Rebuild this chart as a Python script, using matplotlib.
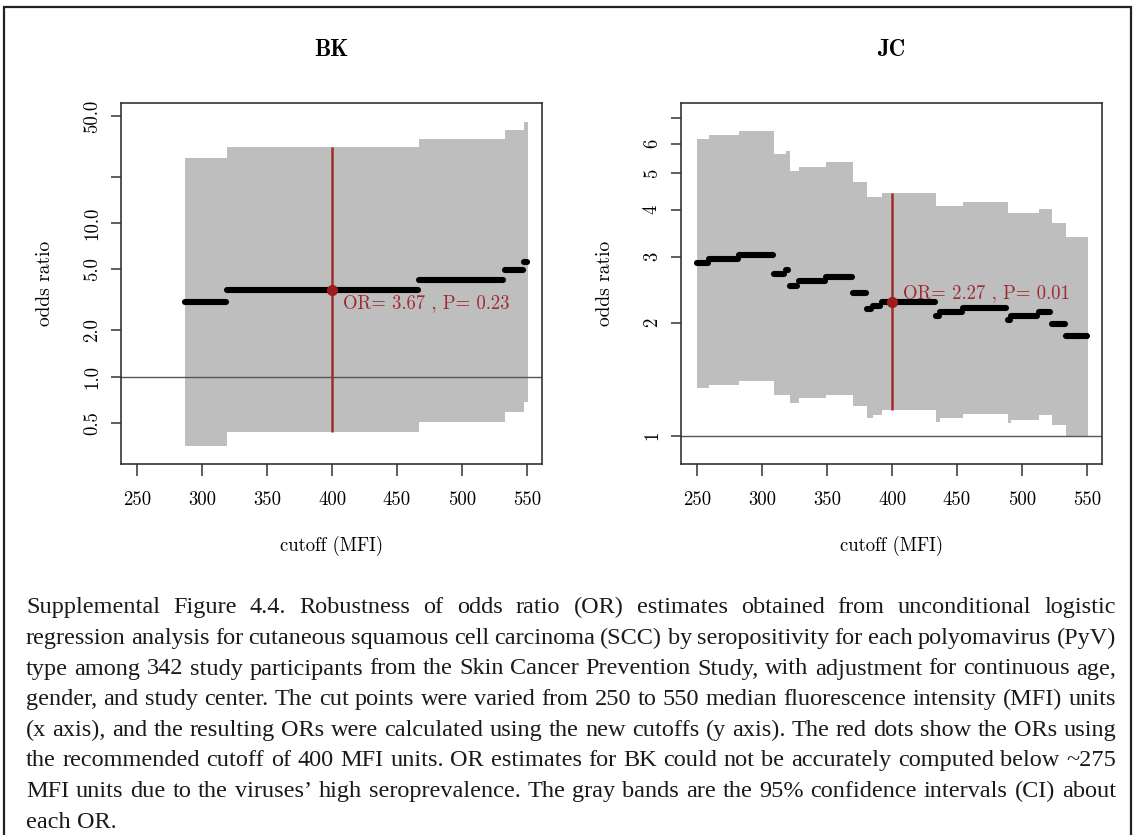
import numpy as np
import matplotlib
matplotlib.use("Agg")
import matplotlib.pyplot as plt
from matplotlib.ticker import FixedLocator, NullLocator
from matplotlib.patches import Rectangle

plt.rcParams["axes.unicode_minus"] = False

# each entry is a run of cutoffs (MFI) that gives the same OR and 95% CI
bk_start = [287, 319, 467, 533, 548]
bk_stop = 551
bk_or = [3.05, 3.67, 4.29, 4.94, 5.6]
bk_lo = [0.353, 0.434, 0.509, 0.591, 0.681]
bk_hi = [26.5, 31.3, 35.6, 40.5, 45.8]
bk_p = 0.23

jc_start = [250, 259, 282, 309, 318, 321, 328, 349, 370, 381,
            385, 392, 434, 437, 455, 489, 492, 513, 523, 534]
jc_stop = 551
jc_or = [2.89, 2.955, 3.03, 2.70, 2.77, 2.505, 2.58, 2.65, 2.395, 2.17,
         2.22, 2.27, 2.08, 2.13, 2.19, 2.03, 2.08, 2.14, 1.98, 1.84]
jc_lo = [1.337, 1.365, 1.399, 1.286, 1.286, 1.224, 1.258, 1.284, 1.20, 1.113,
         1.135, 1.17, 1.09, 1.113, 1.142, 1.079, 1.101, 1.135, 1.068, 0.99]
jc_hi = [6.17, 6.32, 6.48, 5.62, 5.74, 5.08, 5.20, 5.35, 4.75, 4.33,
         4.33, 4.42, 4.09, 4.09, 4.18, 3.91, 3.91, 4.02, 3.68, 3.38]
jc_p = 0.01

ref_cut = 400
x_ticks = [250, 300, 350, 400, 450, 500, 550]
bk_yticks = [0.5, 1, 2, 5, 10, 20, 50]
bk_ylabels = ["0.5", "1.0", "2.0", "5.0", "10.0", "", "50.0"]
jc_yticks = [1, 2, 3, 4, 5, 6, 7]
jc_ylabels = ["1", "2", "3", "4", "5", "6", ""]

caption = [
    "Supplemental Figure 4.4. Robustness of odds ratio (OR) estimates obtained from unconditional logistic",
    "regression analysis for cutaneous squamous cell carcinoma (SCC) by seropositivity for each polyomavirus (PyV)",
    "type among 342 study participants from the Skin Cancer Prevention Study, with adjustment for continuous age,",
    "gender, and study center. The cut points were varied from 250 to 550 median fluorescence intensity (MFI) units",
    "(x axis), and the resulting ORs were calculated using the new cutoffs (y axis). The red dots show the ORs using",
    "the recommended cutoff of 400 MFI units. OR estimates for BK could not be accurately computed below ~275",
    "MFI units due to the viruses\u2019 high seroprevalence. The gray bands are the 95% confidence intervals (CI) about",
    "each OR.",
]

W, H = 1136, 835
RED = "#a52a2a"
BAND = "#bebebe"
CM = "cmr10"

fig = plt.figure(figsize=(W / 100, H / 100), dpi=100)

# thin frame round the whole figure
fig.patches.append(Rectangle((4 / W, -0.02), 1127 / W, 1 - 7 / H + 0.02,
                             transform=fig.transFigure, fill=False,
                             lw=1.6, ec="#222222"))


def or_panel(left, title, start, stop, ors, lo, hi, pval, ylim,
             yticks, ylabels, text_below):
    ax = fig.add_axes([left / W, 1 - 464.3 / H, 421.3 / W, 361 / H])
    edges = np.append(start, stop)
    ends = edges[1:] - 1

    ax.fill_between(edges, np.append(lo, lo[-1]), np.append(hi, hi[-1]),
                    step="post", color=BAND, lw=0, zorder=1)
    ax.axhline(1, color="#555555", lw=1.0, zorder=2)
    segs = ax.hlines(ors, start, ends, color="black", lw=4.4, zorder=3)
    segs.set_capstyle("round")

    k = np.searchsorted(start, ref_cut, side="right") - 1
    ax.vlines(ref_cut, lo[k], hi[k], color=RED, lw=1.8, zorder=4)
    ax.plot(ref_cut, ors[k], "o", color="#a01c1c", ms=7, zorder=5)
    label = "OR= %.2f , P= %.2f" % (ors[k], pval)
    if text_below:
        ax.annotate(label, (ref_cut, ors[k]), xytext=(8, -3),
                    textcoords="offset points", ha="left", va="top",
                    color="#9e2a32", family=CM, fontsize=13.5, zorder=6)
    else:
        ax.annotate(label, (ref_cut, ors[k]), xytext=(8, 2.5),
                    textcoords="offset points", ha="left", va="baseline",
                    color="#9e2a32", family=CM, fontsize=13.5, zorder=6)

    ax.set_yscale("log")
    ax.set_xlim(237.4, 562)
    ax.set_ylim(*ylim)
    ax.xaxis.set_major_locator(FixedLocator(x_ticks))
    ax.set_xticklabels([str(v) for v in x_ticks], family=CM, fontsize=13.5)
    ax.yaxis.set_major_locator(FixedLocator(yticks))
    ax.yaxis.set_minor_locator(NullLocator())
    ax.set_yticklabels(ylabels, family=CM, fontsize=13.5, rotation=90,
                       va="center", ha="right")
    ax.tick_params(axis="x", length=8.5, width=1.1, color="#333333", pad=11)
    ax.tick_params(axis="y", length=7.5, width=1.1, color="#333333", pad=7)
    for s in ax.spines.values():
        s.set_linewidth(1.2)
        s.set_color("#333333")

    ax.set_xlabel("cutoff (MFI)", family=CM, fontsize=13.5)
    ax.xaxis.label.set_va("center")
    ax.xaxis.set_label_coords(0.5, -0.226)
    ax.set_ylabel("odds ratio", family=CM, fontsize=14)
    ax.yaxis.label.set_va("center")
    ax.yaxis.set_label_coords(-0.18, 0.5)
    ax.set_title(title, family="cmb10", fontsize=16.5, y=1.125, va="center")
    return ax


or_panel(121, "BK", bk_start, bk_stop, bk_or, bk_lo, bk_hi, bk_p,
         (0.2685, 60.5), bk_yticks, bk_ylabels, text_below=True)
or_panel(681, "JC", jc_start, jc_stop, jc_or, jc_lo, jc_hi, jc_p,
         (0.839, 7.68), jc_yticks, jc_ylabels, text_below=False)

# justified caption below the panels
renderer = fig.canvas.get_renderer()
cap_left, cap_right = 26.0, 1116.0
fs = 17.5
probe = fig.text(0, 0, "x", family="Liberation Serif", fontsize=fs)
words_all = [ln.split() for ln in caption]
widest = 0
for words in words_all:
    wsum = 0
    for w in words:
        probe.set_text(w)
        wsum += probe.get_window_extent(renderer).width
    widest = max(widest, wsum + 0.18 * fs * 100 / 72 * (len(words) - 1))
probe.remove()
if widest > cap_right - cap_left:
    fs *= (cap_right - cap_left) / widest

space = 0.25 * fs * 100 / 72
for i, words in enumerate(words_all):
    y = 1 - (613.3 + 30.6 * i) / H
    texts = [fig.text(0, y, w, family="Liberation Serif", fontsize=fs,
                      color="#1a1a1a", va="baseline") for w in words]
    widths = [t.get_window_extent(renderer).width for t in texts]
    if i < len(words_all) - 1:
        gap = (cap_right - cap_left - sum(widths)) / (len(words) - 1)
    else:
        gap = space
    x = cap_left
    for t, w in zip(texts, widths):
        t.set_x(x / W)
        x += w + gap

fig.savefig("out.png", dpi=100)
